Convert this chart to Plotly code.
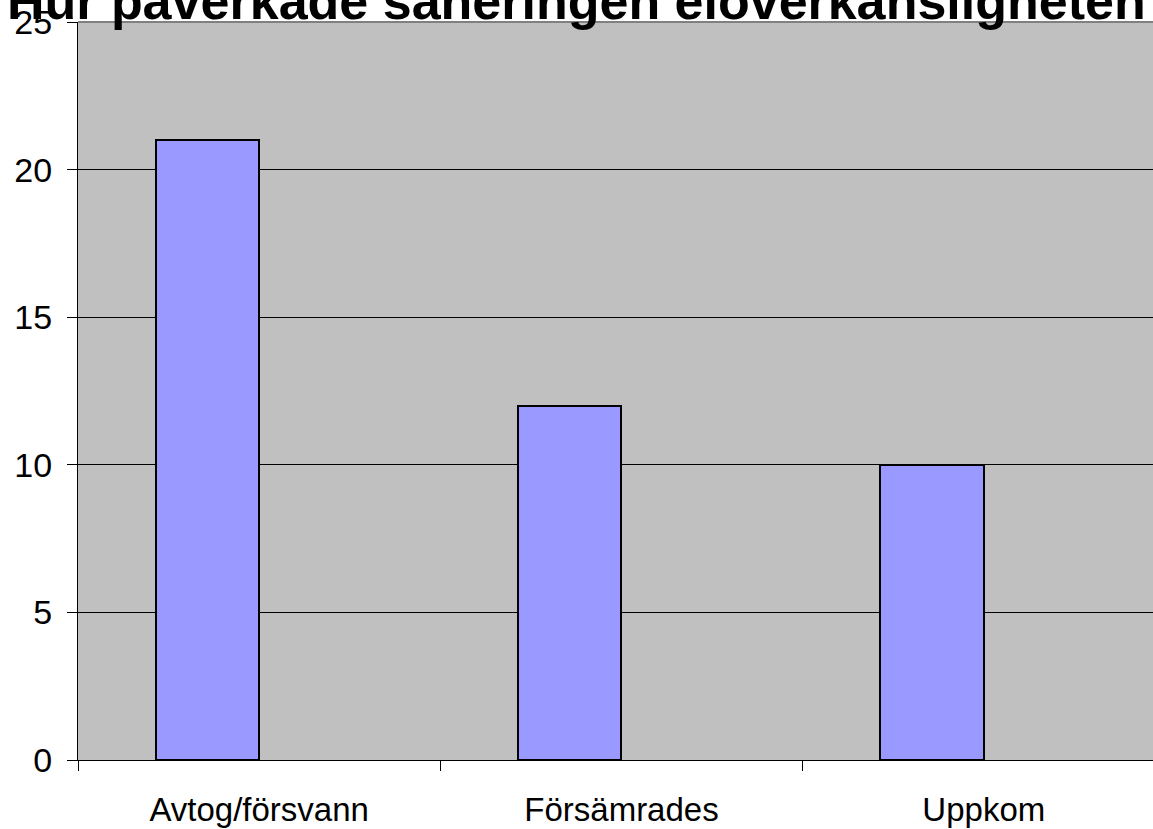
import plotly.graph_objects as go

# DATA
categories = ['Avtog/försvann', 'Försämrades', 'Uppkom']
antal = [21, 12, 10]
title_text = 'Hur påverkade saneringen elöverkänsligheten'

fig = go.Figure()

# BARS (first of two slots in each category, like the original)
fig.add_trace(go.Bar(x=categories, y=antal, width=1 / 3.5, offset=-1 / 3.5,
                     marker=dict(color='#9999FF', line=dict(color='black', width=2)),
                     showlegend=False))

# LAYOUT
fig.update_layout(width=1153, height=829,
                  margin=dict(l=78, r=0, t=22, b=69),
                  paper_bgcolor='white', plot_bgcolor='#C0C0C0',
                  font=dict(family='Liberation Sans, Arial, sans-serif', size=32, color='black'),
                  bargap=0)

fig.update_xaxes(type='category', range=[-0.5, 2.467], tickson='boundaries',
                 ticks='outside', ticklen=10, tickcolor='black', tickwidth=1,
                 showline=True, linecolor='black', linewidth=1,
                 showgrid=False, ticklabelstandoff=20, tickfont=dict(size=33))

fig.update_yaxes(range=[0, 25], dtick=5, ticks='outside', ticklen=10,
                 tickcolor='black', showline=True, linecolor='black', linewidth=1,
                 showgrid=True, gridcolor='black', gridwidth=1, zeroline=False,
                 ticklabelstandoff=8, tickfont=dict(size=34))

# TOP BORDER OF PLOT AREA
fig.add_shape(type='line', xref='paper', yref='paper', x0=0, x1=1, y0=1, y1=1,
              line=dict(color='#808080', width=2))

# TITLE (centred on the page, runs off the top as in the original)
fig.add_annotation(text='<b>' + title_text + '</b>', xref='paper', yref='paper',
                   x=0.5, y=1, xanchor='center', yanchor='bottom',
                   xshift=-39, yshift=-10,
                   showarrow=False, font=dict(size=52, color='black'))

# no page margin so the chart sits at the window's corner
fig.write_html('out.html', config={'displayModeBar': False},
               post_script="document.body.style.margin='0';")
